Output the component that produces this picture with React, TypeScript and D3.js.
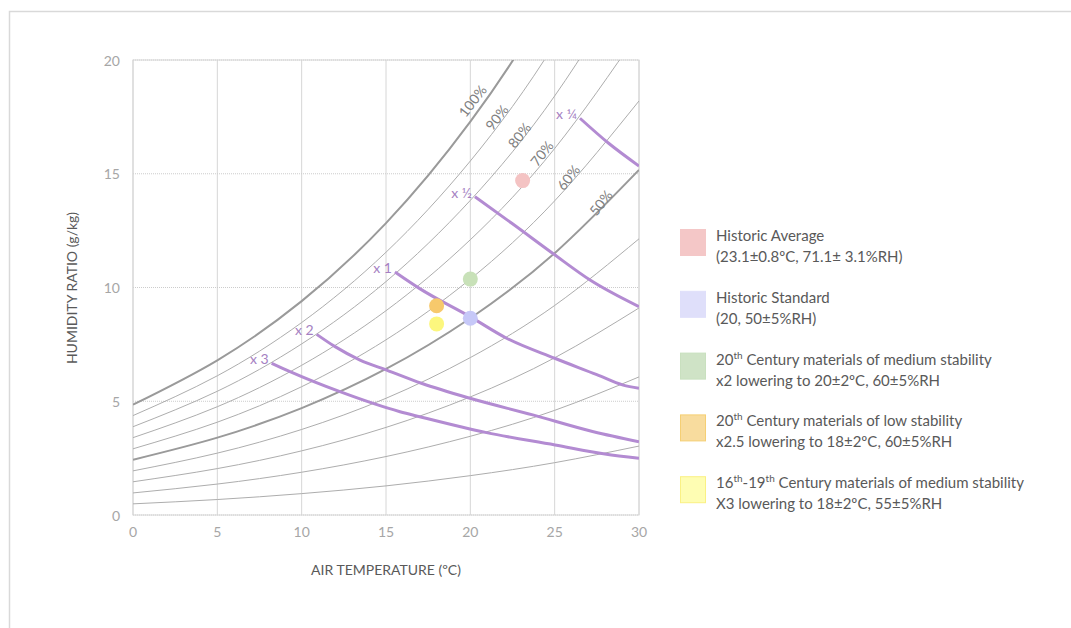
import React from "react";
import * as d3 from "d3";

// temperatures (ºC) where the RH curves were read
const rhTemps = [0, 5, 10, 15, 20, 25, 30];
// humidity (g/kg as labelled) per relative humidity curve
const rh100 = [4.85, 6.8, 9.4, 12.83, 17.29, 23.02, 30.34];
const rh90 = [4.37, 6.12, 8.46, 11.55, 15.56, 20.72, 27.31];
const rh80 = [3.88, 5.44, 7.52, 10.26, 13.83, 18.42, 24.27];
const rh70 = [3.4, 4.76, 6.58, 8.98, 12.1, 16.11, 21.24];
const rh60 = [2.91, 4.08, 5.64, 7.7, 10.37, 13.81, 18.2];
const rh50 = [2.43, 3.4, 4.7, 6.42, 8.65, 11.51, 15.17];
const rh40 = [1.94, 2.72, 3.76, 5.13, 6.92, 9.21, 12.14];
const rh30 = [1.46, 2.04, 2.82, 3.85, 5.19, 6.91, 9.1];
const rh20 = [0.97, 1.36, 1.88, 2.57, 3.46, 4.6, 6.07];
const rh10 = [0.49, 0.68, 0.94, 1.28, 1.73, 2.3, 3.03];

const rhCurves = [
  { rh: 100, values: rh100 },
  { rh: 90, values: rh90 },
  { rh: 80, values: rh80 },
  { rh: 70, values: rh70 },
  { rh: 60, values: rh60 },
  { rh: 50, values: rh50 },
  { rh: 40, values: rh40 },
  { rh: 30, values: rh30 },
  { rh: 20, values: rh20 },
  { rh: 10, values: rh10 },
];

// curve labels: [text, temp, humidity] where the label sits
const rhLabels: [string, number, number][] = [
  ["100%", 20.12, 18.21],
  ["90%", 21.56, 17.48],
  ["80%", 22.9, 16.7],
  ["70%", 24.23, 15.9],
  ["60%", 25.8, 14.84],
  ["50%", 27.73, 13.73],
];

// isoperm lines (purple)
const quarterT = [26.5, 28.2, 30];
const quarterW = [17.44, 16.34, 15.34];
const halfT = [20.27, 22.5, 24.96, 27.1, 30];
const halfW = [13.99, 12.8, 11.46, 10.33, 9.16];
const oneT = [15.53, 17.0, 19.98, 22.15, 25.0, 27.5, 29.06, 30];
const oneW = [10.68, 9.95, 8.72, 7.77, 6.89, 6.17, 5.71, 5.57];
const twoT = [10.89, 11.98, 13.46, 15.04, 17.1, 19.98, 23.7, 27.3, 30];
const twoW = [7.94, 7.4, 6.81, 6.37, 5.79, 5.13, 4.4, 3.66, 3.22];
const threeT = [8.22, 9.31, 12.27, 15.83, 17.0, 20.96, 25.02, 27.98, 30];
const threeW = [6.67, 6.3, 5.42, 4.54, 4.32, 3.62, 3.08, 2.68, 2.49];

const isoperms = [
  { label: "x ¼", t: quarterT, w: quarterW },
  { label: "x ½", t: halfT, w: halfW },
  { label: "x 1", t: oneT, w: oneW },
  { label: "x 2", t: twoT, w: twoW },
  { label: "x 3", t: threeT, w: threeW },
];

// points
const pointNames = ["Historic Average", "Historic Standard", "20th medium", "20th low", "16th-19th"];
const pointT = [23.1, 20, 20, 18, 18];
const pointW = [14.7, 8.65, 10.37, 9.2, 8.4];
const pointColors = ["#f4c3c3", "#c6c8f8", "#c8e1b8", "#f7c96c", "#fcf77e"];
const legendFill = ["#f4c7c7", "#dfdffa", "#cfe3c6", "#f8dc9e", "#fefdb3"];
const legendStroke = ["#f4c7c7", "#dfdffa", "#c9e0bf", "#f5cf74", "#faf184"];

const xTicks = [0, 5, 10, 15, 20, 25, 30];
const yTicks = [0, 5, 10, 15, 20];

const font = "Lato, 'Open Sans', sans-serif";

export default function App() {
  const x = d3.scaleLinear().domain([0, 30]).range([133, 639]);
  const y = d3.scaleLinear().domain([0, 20]).range([515, 60]);

  const rhLine = d3
    .line<number>()
    .x((_, i) => x(rhTemps[i]))
    .y((d) => y(d))
    .curve(d3.curveNatural);

  const isoLine = (t: number[], w: number[]) =>
    d3
      .line<number>()
      .x((d) => x(d))
      .y((_, i) => y(w[i]))
      .curve(d3.curveMonotoneX)(t);

  const legendTop = 229;
  const legendStep = 61.8;

  return (
    <svg
      width={1071}
      height={628}
      style={{ position: "absolute", left: 0, top: 0, display: "block", fontFamily: font }}
    >
      <defs>
        <clipPath id="plot">
          <rect x={133} y={60} width={506} height={455} />
        </clipPath>
      </defs>
      <rect x={0} y={0} width={1071} height={628} fill="#fff" />
      {/* outer frame */}
      <path d="M9.5,628 V11.5 H1071" fill="none" stroke="#d9d9d9" strokeWidth={1.5} />

      {/* grid */}
      {xTicks.map((t) => (
        <line key={"gx" + t} x1={x(t)} x2={x(t)} y1={60} y2={515} stroke="#d6d6d6" strokeWidth={1} />
      ))}
      {yTicks.map((t) => (
        <line
          key={"gy" + t}
          x1={133}
          x2={639}
          y1={y(t)}
          y2={y(t)}
          stroke="#cccccc"
          strokeWidth={1}
          strokeDasharray="1,1"
        />
      ))}
      <rect x={133} y={60} width={506} height={455} fill="none" stroke="#d6d6d6" strokeWidth={1} />

      <g clipPath="url(#plot)">
        {rhCurves.map((c) => (
          <path
            key={c.rh}
            d={rhLine(c.values) || ""}
            fill="none"
            stroke={c.rh === 100 || c.rh === 50 ? "#9a9a9a" : "#adadad"}
            strokeWidth={c.rh === 100 || c.rh === 50 ? 2 : 1}
          />
        ))}
        {isoperms.map((p) => (
          <path key={p.label} d={isoLine(p.t, p.w) || ""} fill="none" stroke="#b38bd2" strokeWidth={3} />
        ))}
      </g>

      {rhLabels.map(([lab, t, w]) => (
        <text
          key={lab}
          transform={`translate(${x(t)},${y(w)}) rotate(-52)`}
          textAnchor="middle"
          dominantBaseline="central"
          fontSize={14}
          fill="#7f7f7f"
        >
          {lab}
        </text>
      ))}

      {isoperms.map((p) => (
        <text
          key={"l" + p.label}
          x={x(p.t[0]) - 3}
          y={y(p.w[0]) + 1}
          textAnchor="end"
          fontSize={14}
          fill="#a57fc2"
        >
          {p.label}
        </text>
      ))}

      {pointT.map((t, i) => (
        <circle key={pointNames[i]} cx={x(t)} cy={y(pointW[i])} r={7.5} fill={pointColors[i]} />
      ))}

      {/* axes labels */}
      {xTicks.map((t) => (
        <text key={"tx" + t} x={x(t)} y={537} textAnchor="middle" fontSize={14} fill="#a6a6a6">
          {t}
        </text>
      ))}
      {yTicks.map((t) => (
        <text
          key={"ty" + t}
          x={120}
          y={y(t)}
          textAnchor="end"
          dominantBaseline="central"
          fontSize={14}
          fill="#a6a6a6"
        >
          {t}
        </text>
      ))}
      <text x={386} y={575} textAnchor="middle" fontSize={14} fill="#595959">
        AIR TEMPERATURE (ºC)
      </text>
      <text
        transform="translate(77,288) rotate(-90)"
        textAnchor="middle"
        fontSize={14}
        fill="#595959"
      >
        HUMIDITY RATIO (g/kg)
      </text>

      {/* legend */}
      {legendFill.map((c, i) => (
        <rect
          key={"lg" + i}
          x={680.5}
          y={legendTop + i * legendStep + 0.5}
          width={25}
          height={26}
          fill={c}
          stroke={legendStroke[i]}
          strokeWidth={1}
        />
      ))}
      <g fontSize={15} fill="#595959">
        <text x={716} y={legendTop + 12}>Historic Average</text>
        <text x={716} y={legendTop + 33}>(23.1±0.8ºC, 71.1± 3.1%RH)</text>
        <text x={716} y={legendTop + legendStep + 12}>Historic Standard</text>
        <text x={716} y={legendTop + legendStep + 33}>(20, 50±5%RH)</text>
        <text x={716} y={legendTop + 2 * legendStep + 12}>
          20<tspan fontSize={10} dy={-6}>th</tspan>
          <tspan dy={6}> Century materials of medium stability</tspan>
        </text>
        <text x={716} y={legendTop + 2 * legendStep + 33}>x2 lowering to 20±2ºC, 60±5%RH</text>
        <text x={716} y={legendTop + 3 * legendStep + 12}>
          20<tspan fontSize={10} dy={-6}>th</tspan>
          <tspan dy={6}> Century materials of low stability</tspan>
        </text>
        <text x={716} y={legendTop + 3 * legendStep + 33}>x2.5 lowering to 18±2ºC, 60±5%RH</text>
        <text x={716} y={legendTop + 4 * legendStep + 12}>
          16<tspan fontSize={10} dy={-6}>th</tspan>
          <tspan dy={6}>-19</tspan>
          <tspan fontSize={10} dy={-6}>th</tspan>
          <tspan dy={6}> Century materials of medium stability</tspan>
        </text>
        <text x={716} y={legendTop + 4 * legendStep + 33}>X3 lowering to 18±2ºC, 55±5%RH</text>
      </g>
    </svg>
  );
}
